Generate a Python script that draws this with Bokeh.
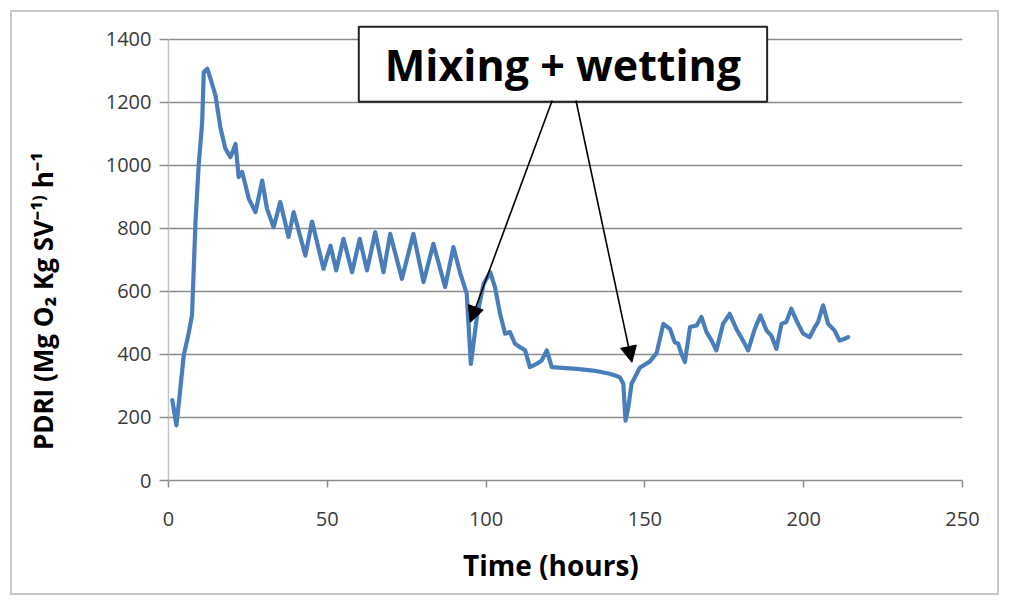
from bokeh.plotting import figure
from bokeh.models import FixedTicker, Label, Arrow, NormalHead, Range1d
from bokeh.embed import file_html
from bokeh.resources import INLINE

# PDRI time series (hours, Mg O2 Kg SV-1 h-1)
hours = [1.2, 2.5, 3.5, 4.8, 6.2, 7.4, 8.5, 9.5, 10.6, 11.1, 12.2, 13.2, 14.8,
         16.4, 17.9, 19.5, 21.1, 22.1, 23.2, 25.3, 27.4, 29.5, 31.0, 33.1,
         35.2, 37.8, 39.4, 43.1, 45.2, 48.8, 51.0, 52.8, 55.1, 57.8, 60.2,
         62.5, 65.1, 67.7, 69.8, 73.5, 77.1, 80.3, 83.4, 87.1, 89.7, 91.8,
         93.9, 95.2, 97.1, 99.2, 101.3, 102.8, 104.4, 106.0, 107.5, 109.1,
         110.7, 112.3, 113.8, 115.9, 117.5, 119.1, 120.7, 128.5, 133.7, 139.0,
         142.1, 143.2, 143.9, 144.8, 145.8, 148.4, 151.6, 153.7, 155.8, 157.9,
         159.4, 160.5, 161.5, 162.6, 164.2, 166.3, 167.8, 169.4, 171.0, 172.5,
         174.6, 176.7, 178.8, 180.9, 182.5, 184.6, 186.4, 188.3, 189.8, 191.4,
         193.0, 194.5, 196.1, 197.7, 199.8, 201.9, 203.5, 204.5, 206.1, 207.7,
         209.7, 211.3, 212.9, 214.0]
pdri = [255, 175, 270, 397, 460, 524, 820, 1000, 1137, 1296, 1307, 1276, 1222,
        1117, 1054, 1026, 1068, 963, 979, 894, 852, 952, 863, 804,
        884, 773, 852, 714, 822, 672, 745, 667, 767, 661, 767,
        667, 788, 661, 783, 640, 783, 630, 751, 614, 741, 660,
        593, 370, 519, 624, 661, 614, 529, 466, 471, 434,
        423, 413, 360, 370, 381, 413, 360, 354, 349, 339,
        328, 307, 190, 233, 307, 358, 378, 405, 497, 481,
        439, 434, 402, 376, 487, 492, 519, 471, 444, 413,
        497, 529, 481, 444, 413, 481, 524, 476, 460, 418,
        497, 503, 545, 508, 466, 455, 487, 503, 556, 497,
        476, 444, 450, 455]

x_ticks = [0, 50, 100, 150, 200, 250]
y_ticks = [0, 200, 400, 600, 800, 1000, 1200, 1400]

# annotation: label position and the two arrows (start -> tip), data units
note_text = "Mixing + wetting"
note_x, note_y = 124.2, 1321
arrow_x_start = [120.8, 128.3]
arrow_y_start = [1206, 1206]
arrow_x_end = [95.0, 145.9]
arrow_y_end = [502, 375]

LINE_BLUE = "#4a7ebb"
GRID = "#8c8c8c"
NBSP = "\u00a0"

# y range runs a little past 1400 so the note box has room above the top grid line
p = figure(width=1009, height=605, output_backend="svg", toolbar_location=None,
           x_range=Range1d(0, 250), y_range=Range1d(0, 1460),
           min_border_left=168, min_border_right=47, min_border_top=20,
           min_border_bottom=125)
p.background_fill_color = "white"
p.border_fill_alpha = 0
p.outline_line_color = None
# thin grey frame drawn around the whole chart, 10px in from the edge
p.styles = {"background-color": "white",
            "box-shadow": "inset 0 0 0 10px white, inset 0 0 0 12px #c8c8c8"}

p.line(hours, pdri, line_color=LINE_BLUE, line_width=4.2, line_join="round",
       line_cap="round")

# axes
p.xaxis.ticker = FixedTicker(ticks=x_ticks)
p.yaxis.ticker = FixedTicker(ticks=y_ticks)
p.yaxis.bounds = (0, 1400)
p.xaxis.minor_tick_line_color = None
p.yaxis.minor_tick_line_color = None
p.xaxis.major_tick_in = 0
p.xaxis.major_tick_out = 7
p.yaxis.major_tick_in = 0
p.yaxis.major_tick_out = 9
p.xaxis.axis_line_color = GRID
p.xaxis.major_tick_line_color = GRID
p.yaxis.axis_line_color = "#c4c4c4"
p.yaxis.major_tick_line_color = GRID
p.xaxis.axis_line_width = 1.5
p.yaxis.axis_line_width = 1.5
p.xaxis.major_tick_line_width = 1.5
p.yaxis.major_tick_line_width = 1.5

for ax in (p.xaxis, p.yaxis):
    ax.major_label_text_font = "Open Sans"
    ax.major_label_text_font_size = "20px"
    ax.major_label_text_color = "#3a3a3a"
    ax.axis_label_text_font = "Open Sans"
    ax.axis_label_text_font_style = "bold"
    ax.axis_label_text_color = "black"

p.xaxis.major_label_standoff = 24
p.yaxis.major_label_standoff = 8
p.xaxis.axis_label = "Time (hours)" + NBSP * 4
p.xaxis.axis_label_text_font_size = "28px"
p.xaxis.axis_label_standoff = 17
p.yaxis.axis_label = "PDRI (Mg O\u2082 Kg SV\u207b\u00b9\u207e h\u207b\u00b9" + NBSP * 15
p.yaxis.axis_label_text_font_size = "26px"
p.yaxis.axis_label_standoff = 42

p.xgrid.grid_line_color = None
p.ygrid.grid_line_color = GRID
p.ygrid.grid_line_width = 1.5

# annotation box and arrows
p.add_layout(Label(x=note_x, y=note_y, text=note_text, text_align="center",
                   text_baseline="middle", text_font="Open Sans",
                   text_font_style="bold", text_font_size="43px",
                   text_color="black", background_fill_color="white",
                   border_line_color="#222222", border_line_width=2,
                   padding=(26, 8)))
for xs, ys, xe, ye in zip(arrow_x_start, arrow_y_start, arrow_x_end, arrow_y_end):
    p.add_layout(Arrow(x_start=xs, y_start=ys, x_end=xe, y_end=ye,
                       line_color="black", line_width=1.6,
                       end=NormalHead(size=16, fill_color="black",
                                      line_color="black")))

open("out.html", "w").write(file_html(p, INLINE))
